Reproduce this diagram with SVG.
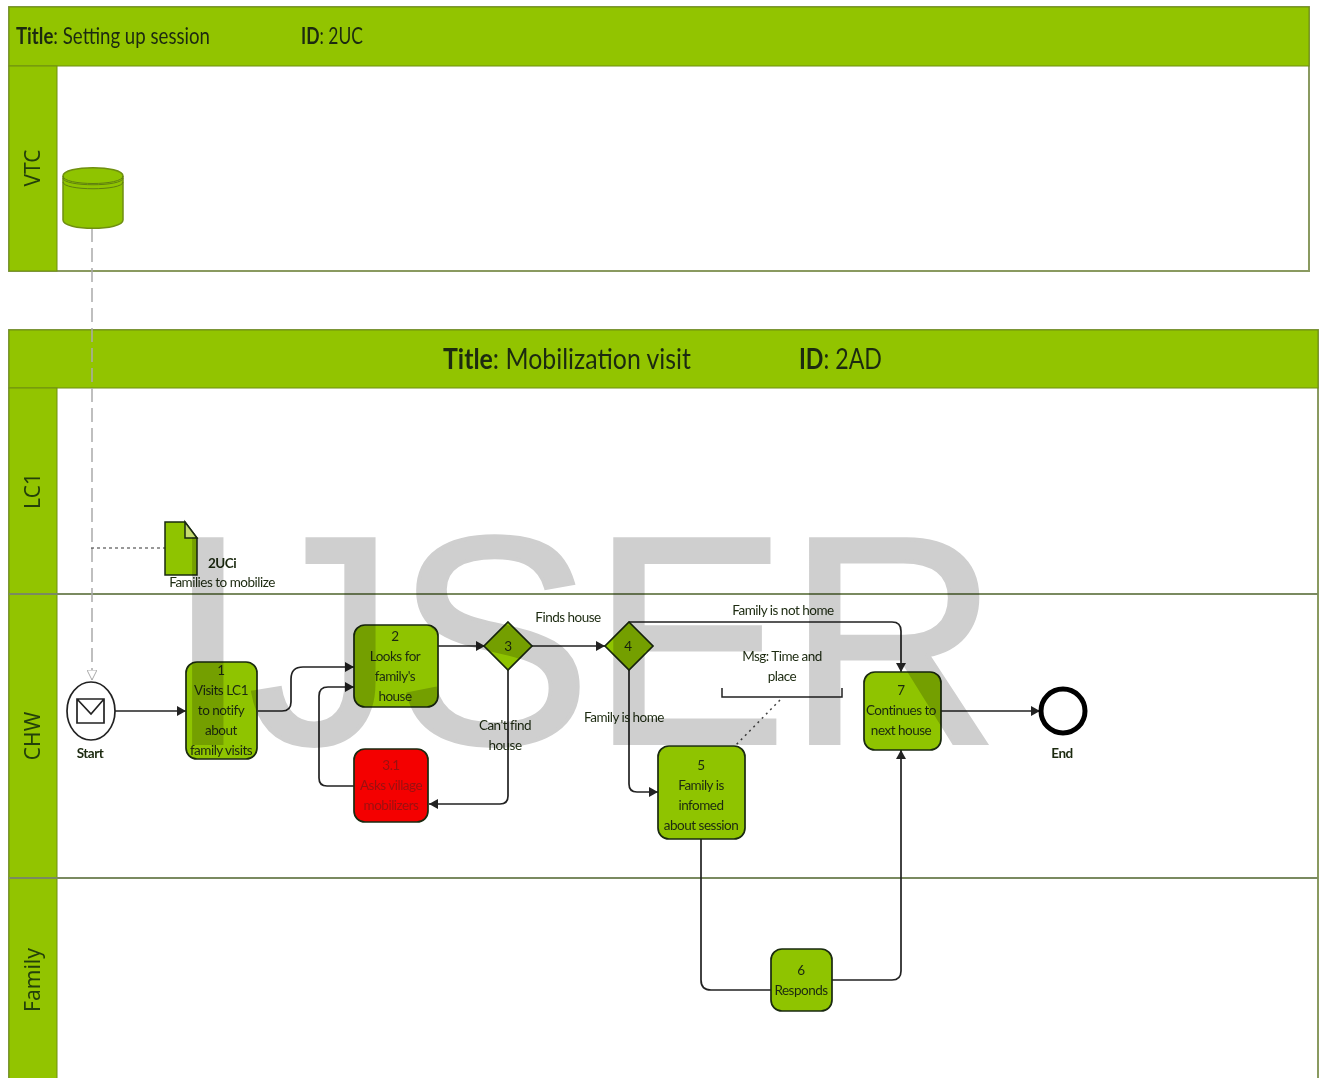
<svg xmlns="http://www.w3.org/2000/svg" width="1322" height="1078" viewBox="0 0 1322 1078">
<style>
text{font-family:"Lato","Liberation Sans",sans-serif;fill:#1c2a10;text-anchor:middle}
.pool{fill:#fff;stroke:#8a9a60;stroke-width:2}
.band{fill:#92c400;stroke:#6f8f10;stroke-width:1}
.lane{stroke:#7a8a60;stroke-width:2;fill:none}
.task{fill:#8fc400;stroke:#1a2a10;stroke-width:1.7}
.t{font-size:13.5px;letter-spacing:-.5px}
.ttl{font-size:23px;text-anchor:start}
.side{font-size:21px;font-family:"Noto Sans","Liberation Sans",sans-serif;fill:#23400a}
.flow{fill:none;stroke:#222;stroke-width:1.7;marker-end:url(#a)}
.plain{fill:none;stroke:#222;stroke-width:1.7}
.b{font-weight:700}
</style>
<defs>
<marker id="a" markerWidth="10" markerHeight="11" refX="9" refY="5" orient="auto" markerUnits="userSpaceOnUse"><path d="M0 0L9 5L0 10z" fill="#222"/></marker>
<marker id="h" markerWidth="12" markerHeight="10" refX="10" refY="5" orient="auto" markerUnits="userSpaceOnUse"><path d="M0 0L10 5L0 10z" fill="#fff" stroke="#aaa"/></marker>
</defs>
<rect width="1322" height="1078" fill="#fff"/>
<g id="pool-top">
<rect class="pool" x="9" y="7" width="1300" height="264"/>
<rect class="band" x="9" y="7" width="1300" height="59"/>
<rect class="band" x="9" y="66" width="48" height="205"/>
<text class="ttl" x="16" y="44" textLength="194" lengthAdjust="spacingAndGlyphs"><tspan class="b">Title</tspan>: Setting up session</text>
<text class="ttl" x="301" y="44" textLength="62" lengthAdjust="spacingAndGlyphs"><tspan class="b">ID</tspan>: 2UC</text>
<text class="side" transform="translate(40 168) rotate(-90)">VTC</text>
</g>
<g id="pool-main">
<rect class="pool" x="9" y="330" width="1309" height="760"/>
<rect class="band" x="9" y="330" width="1309" height="58"/>
<rect class="band" x="9" y="388" width="48" height="700"/>
<path class="lane" d="M9 594H1318M9 878H1318"/>
<text class="ttl" x="443" y="369" style="font-size:29px" textLength="248" lengthAdjust="spacingAndGlyphs"><tspan class="b">Title</tspan>: Mobilization visit</text>
<text class="ttl" x="799" y="369" style="font-size:29px" textLength="83" lengthAdjust="spacingAndGlyphs"><tspan class="b">ID</tspan>: 2AD</text>
<text class="side" transform="translate(40 491) rotate(-90)">LC1</text>
<text class="side" transform="translate(40 736) rotate(-90)">CHW</text>
<text class="side" transform="translate(40 980) rotate(-90)">Family</text>
</g>
<g id="connectors">
<path d="M92 228V680" fill="none" stroke="#aaa" stroke-width="1.5" stroke-dasharray="14 6" marker-end="url(#h)"/>
<path d="M91 548H165" fill="none" stroke="#333" stroke-width="1.2" stroke-dasharray="3 3"/>
<path class="flow" d="M115 711H186"/>
<path class="flow" d="M258 711H282Q291 711 291 702V679Q291 667 303 667H354"/>
<path class="flow" d="M354 786H327Q319 786 319 778V696Q319 687 328 687H354"/>
<path class="flow" d="M438 646H485"/>
<path class="flow" d="M532 646H605"/>
<path class="flow" d="M508 670V796Q508 804 500 804H429"/>
<path class="flow" d="M629 622H892Q901 622 901 631V672"/>
<path class="flow" d="M629 670V784Q629 792 637 792H658"/>
<path class="plain" d="M701 839V980Q701 990 711 990H771"/>
<path class="flow" d="M832 980H892Q901 980 901 971V750"/>
<path class="flow" d="M941 711H1040"/>
<path d="M780 700L735 746" fill="none" stroke="#444" stroke-width="1.5" stroke-dasharray="2 4"/>
<path d="M722 688V697H842V688" fill="none" stroke="#222" stroke-width="1.5"/>
</g>
<g id="store">
<path d="M63 176C63 165 123 165 123 176V220C123 231 63 231 63 220Z" fill="#8fc400" stroke="#6f8f10" stroke-width="1.5"/>
<path d="M63 178C63 187 123 187 123 178M63 182C63 191 123 191 123 182M63 176C63 186 123 186 123 176" fill="none" stroke="#5f7f10"/>
</g>
<g id="doc">
<path d="M165 522H185L197 538V575H165Z" fill="#8fc400" stroke="#1a2a10" stroke-width="1.5"/>
<path d="M185 522V538H197Z" fill="#c5dc70" stroke="#1a2a10" stroke-width="1.5"/>
<text class="t b" x="222" y="568">2UCi</text>
<text class="t" x="222" y="587">Families to mobilize</text>
</g>
<g id="start">
<ellipse cx="91" cy="711" rx="24" ry="29" fill="#fff" stroke="#222" stroke-width="1.7"/>
<path d="M77 699H104V723H77ZM77 699L91 714L104 699" fill="none" stroke="#222" stroke-width="1.7"/>
<text class="t b" x="90" y="758">Start</text>
</g>
<g id="task-1">
<rect class="task" x="186" y="662" width="71" height="97" rx="11"/>
<text class="t"><tspan x="221" y="675">1</tspan><tspan x="221" y="695">Visits LC1</tspan><tspan x="221" y="715">to notify</tspan><tspan x="221" y="735">about</tspan><tspan x="221" y="755">family visits</tspan></text>
</g>
<g id="task-2">
<rect class="task" x="354" y="625" width="84" height="82" rx="11"/>
<text class="t"><tspan x="395" y="641">2</tspan><tspan x="395" y="661">Looks for</tspan><tspan x="395" y="681">family's</tspan><tspan x="395" y="701">house</tspan></text>
</g>
<g id="task-3-1">
<rect class="task" x="354" y="749" width="74" height="73" rx="11" style="fill:#f40000"/>
<text class="t" style="fill:#9a1010"><tspan x="391" y="770">3.1</tspan><tspan x="391" y="790">Asks village</tspan><tspan x="391" y="810">mobilizers</tspan></text>
</g>
<g id="gateway-3">
<path class="task" d="M508 622L532 646L508 670L484 646Z"/>
<text class="t" x="508" y="651">3</text>
</g>
<g id="gateway-4">
<path class="task" d="M629 622L653 646L629 670L605 646Z"/>
<text class="t" x="628" y="651">4</text>
</g>
<g id="task-5">
<rect class="task" x="658" y="746" width="87" height="93" rx="11"/>
<text class="t"><tspan x="701" y="770">5</tspan><tspan x="701" y="790">Family is</tspan><tspan x="701" y="810">infomed</tspan><tspan x="701" y="830">about session</tspan></text>
</g>
<g id="task-6">
<rect class="task" x="771" y="949" width="61" height="62" rx="11"/>
<text class="t"><tspan x="801" y="975">6</tspan><tspan x="801" y="995">Responds</tspan></text>
</g>
<g id="task-7">
<rect class="task" x="864" y="672" width="77" height="78" rx="11"/>
<text class="t"><tspan x="901" y="695">7</tspan><tspan x="901" y="715">Continues to</tspan><tspan x="901" y="735">next house</tspan></text>
</g>
<g id="end">
<circle cx="1063" cy="711" r="22" fill="#fff" stroke="#000" stroke-width="5"/>
<text class="t b" x="1062" y="758">End</text>
</g>
<g id="labels">
<text class="t" x="568" y="622">Finds house</text>
<text class="t" x="783" y="615">Family is not home</text>
<text class="t"><tspan x="782" y="661">Msg: Time and</tspan><tspan x="782" y="681">place</tspan></text>
<text class="t" x="624" y="722">Family is home</text>
<text class="t"><tspan x="505" y="730">Can't find</tspan><tspan x="505" y="750">house</tspan></text>
</g>
<text x="167" y="743" textLength="832" lengthAdjust="spacingAndGlyphs" style="font-family:'Liberation Sans',sans-serif;font-size:296px;fill:#cfcfcf;stroke:#cfcfcf;stroke-width:4;text-anchor:start;mix-blend-mode:multiply">IJSER</text>
</svg>
